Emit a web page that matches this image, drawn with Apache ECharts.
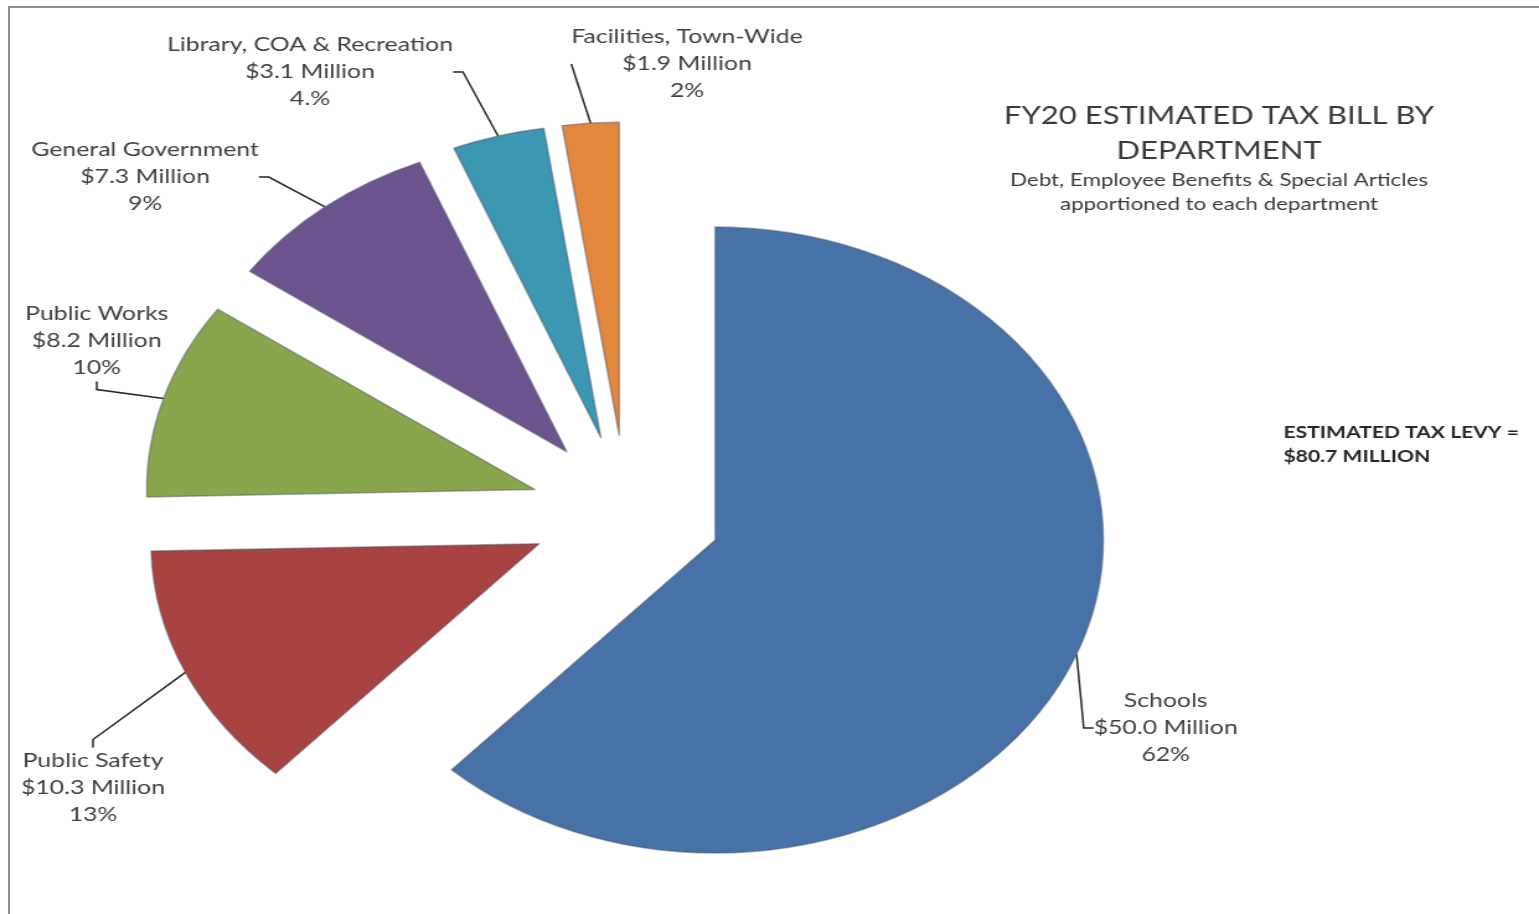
<!DOCTYPE html>
<html>
<head>
<meta charset="utf-8">
<title>FY20 Estimated Tax Bill by Department</title>
<script src="https://cdn.jsdelivr.net/npm/echarts@6/dist/echarts.min.js"></script>
<style>
  html, body { margin: 0; padding: 0; background: #fff; overflow: hidden; }
  .frame {
    position: absolute; left: 8px; top: 6px; width: 1540px; height: 920px;
    border-top: 2px solid #8e8e8e; border-left: 2px solid #8e8e8e;
  }
  /* the source picture is stretched sideways, so the chart is too */
  .chart {
    position: absolute; left: 0; top: 0;
    width: 1241px; height: 914px;
    transform: scaleX(1.2401); transform-origin: 0 0;
  }
</style>
</head>
<body>
<div class="frame"></div>
<div id="main" class="chart"></div>
<script>
// data (in $ millions)
const departments = ["Schools", "Public Safety", "Public Works", "General Government", "Library, COA & Recreation", "Facilities, Town-Wide"];
const amounts = [50.0, 10.3, 8.2, 7.3, 3.1, 1.9];
const shareLabels = ["62%", "13%", "10%", "9%", "4.%", "2%"];
const colors = ["#4672a8", "#a94341", "#8aa64c", "#6e548f", "#3b97b2", "#e2873c"];

// where each label block sits (unstretched px)
const labelSpots = [
  [940, 728],
  [75, 788],
  [78, 341],
  [117, 177],
  [250, 72],
  [554, 64]
];

const pieCenter = [505, 512];
const pieRadius = 313;
const explode = 77;

let mychart = echarts.init(document.getElementById("main"));

// exploded slices
let sliceData = departments.map((name, i) => {
  return {
    name: name,
    value: amounts[i],
    selected: true,
    itemStyle: { color: colors[i] },
  };
});

// invisible ring just outside the exploded slices, only used to carry labels
let labelData = departments.map((name, i) => {
  return { name: name, value: amounts[i] };
});

let option = {
  animation: false,
  title: [
    {
      text: "FY20 ESTIMATED TAX BILL BY\nDEPARTMENT",
      subtext: "Debt, Employee Benefits & Special Articles\napportioned to each department",
      left: 978,
      top: 93,
      textAlign: "center",
      itemGap: 0,
      textStyle: {
        fontFamily: "Lato",
        fontWeight: "normal",
        fontSize: 25,
        lineHeight: 35,
        color: "#3a3a3a",
      },
      subtextStyle: {
        fontFamily: "Lato",
        fontSize: 18,
        lineHeight: 24,
        color: "#3a3a3a",
      },
    },
    {
      text: "ESTIMATED TAX LEVY =\n$80.7 MILLION",
      left: 1030,
      top: 416,
      textStyle: {
        fontFamily: "Lato",
        fontWeight: "bold",
        fontSize: 17,
        lineHeight: 24,
        color: "#262626",
      },
    },
  ],
  series: [
    {
      type: "pie",
      center: pieCenter,
      radius: pieRadius,
      startAngle: 90,
      clockwise: true,
      selectedMode: "multiple",
      selectedOffset: explode,
      itemStyle: {
        borderColor: "rgba(70,80,100,0.45)",
        borderWidth: 1.5,
      },
      emphasis: { disabled: true },
      label: { show: false },
      labelLine: { show: false },
      data: sliceData,
    },
    {
      type: "pie",
      silent: true,
      center: pieCenter,
      radius: pieRadius + explode,
      startAngle: 90,
      clockwise: true,
      avoidLabelOverlap: false,
      itemStyle: { color: "rgba(0,0,0,0)", borderWidth: 0 },
      emphasis: { disabled: true },
      label: {
        show: true,
        position: "outside",
        fontFamily: "Lato",
        fontSize: 20,
        lineHeight: 27,
        color: "#404040",
        formatter: (p) => {
          return p.name + "\n$" + p.value.toFixed(1) + " Million\n" + shareLabels[p.dataIndex];
        },
      },
      labelLine: {
        show: true,
        length: 12,
        length2: 8,
        lineStyle: { color: "#262626", width: 1.5 },
      },
      labelLayout: (params) => {
        let spot = labelSpots[params.dataIndex];
        return {
          x: spot[0],
          y: spot[1],
          align: "center",
          verticalAlign: "middle",
        };
      },
      data: labelData,
    },
  ],
};
mychart.setOption(option);
</script>
</body>
</html>
